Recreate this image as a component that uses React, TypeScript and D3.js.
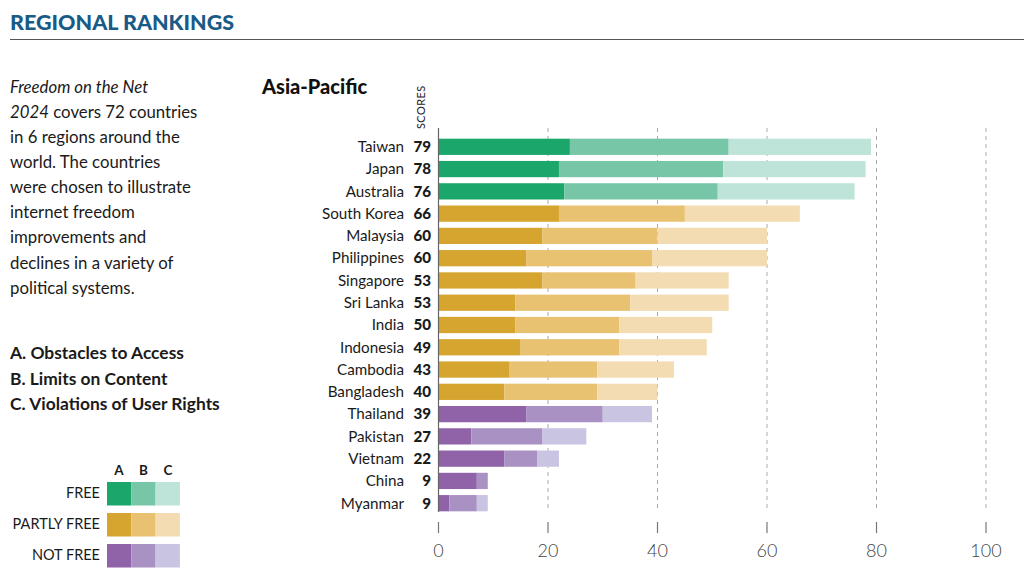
import { useEffect, useRef } from "react";
import * as d3 from "d3";

const countries = [
  "Taiwan", "Japan", "Australia", "South Korea", "Malaysia", "Philippines",
  "Singapore", "Sri Lanka", "India", "Indonesia", "Cambodia", "Bangladesh",
  "Thailand", "Pakistan", "Vietnam", "China", "Myanmar",
];
const obstacles = [24, 22, 23, 22, 19, 16, 19, 14, 14, 15, 13, 12, 16, 6, 12, 7, 2];
const limits = [29, 30, 28, 23, 21, 23, 17, 21, 19, 18, 16, 17, 14, 13, 6, 2, 5];
const violations = [26, 26, 25, 21, 20, 21, 17, 18, 17, 16, 14, 11, 9, 8, 4, 0, 2];
const status = [
  "free", "free", "free", "partly", "partly", "partly", "partly", "partly",
  "partly", "partly", "partly", "partly", "not", "not", "not", "not", "not",
];
const xTicks = [0, 20, 40, 60, 80, 100];
const statusNames = ["free", "partly", "not"];
const statusLabels = ["FREE", "PARTLY FREE", "NOT FREE"];
const colors: Record<string, string[]> = {
  free: ["#1ba66c", "#77c6a7", "#bee3d8"],
  partly: ["#d5a52f", "#e8c271", "#f3dcb2"],
  not: ["#9062a8", "#a991c4", "#cac4e3"],
};
const introLines = [
  "in 6 regions around the",
  "world. The countries",
  "were chosen to illustrate",
  "internet freedom",
  "improvements and",
  "declines in a variety of",
  "political systems.",
];
const keyLines = [
  "A. Obstacles to Access",
  "B. Limits on Content",
  "C. Violations of User Rights",
];

const FONT = "Lato, 'Open Sans', sans-serif";

const App = () => {
  const ref = useRef<SVGSVGElement>(null);

  useEffect(() => {
    const svg = d3.select(ref.current);
    svg.selectAll("*").remove();

    // header
    svg.append("text")
      .attr("x", 10).attr("y", 30)
      .attr("font-family", FONT).attr("font-weight", 900).attr("font-size", 21.5)
      .attr("fill", "#185b86")
      .text("REGIONAL RANKINGS");
    svg.append("line")
      .attr("x1", 10).attr("x2", 1024).attr("y1", 39.5).attr("y2", 39.5)
      .attr("stroke", "#555").attr("stroke-width", 1.2);

    // intro text
    const intro = svg.append("g").attr("font-family", FONT).attr("font-size", 16.8).attr("fill", "#1a1a1a");
    intro.append("text").attr("x", 10).attr("y", 93).attr("font-style", "italic").text("Freedom on the Net");
    const l2 = intro.append("text").attr("x", 10).attr("y", 118);
    l2.append("tspan").attr("font-style", "italic").text("2024");
    l2.append("tspan").text(" covers 72 countries");
    introLines.forEach((t, i) => {
      intro.append("text").attr("x", 10).attr("y", 143 + i * 25.1).text(t);
    });
    keyLines.forEach((t, i) => {
      intro.append("text").attr("x", 10).attr("y", 359 + i * 25.5)
        .attr("font-size", 17.4).attr("font-weight", 700).text(t);
    });

    // legend
    const lg = svg.append("g").attr("font-family", FONT).attr("fill", "#1a1a1a");
    ["A", "B", "C"].forEach((t, i) => {
      lg.append("text").attr("x", 119 + i * 24.5).attr("y", 475)
        .attr("text-anchor", "middle").attr("font-size", 13.5).attr("font-weight", 700).text(t);
    });
    statusNames.forEach((s, r) => {
      const y = 482 + r * 31;
      lg.append("text").attr("x", 100).attr("y", y + 11).attr("dy", "0.35em")
        .attr("text-anchor", "end").attr("font-size", 14.5).text(statusLabels[r]);
      colors[s].forEach((c, i) => {
        lg.append("rect").attr("x", 107 + i * 24.3).attr("y", y)
          .attr("width", 24.3).attr("height", 23.5).attr("fill", c);
      });
    });

    // chart
    const x = d3.scaleLinear().domain([0, 100]).range([438.5, 986]);
    const y = d3.scaleBand<string>().domain(countries).range([136, 514]).paddingInner(0.27).paddingOuter(0.12);
    const top = 128;
    const bottom = 512;

    svg.append("text")
      .attr("x", 262).attr("y", 94)
      .attr("font-family", FONT).attr("font-weight", 900).attr("font-size", 20)
      .attr("fill", "#111").text("Asia-Pacific");
    svg.append("text")
      .attr("transform", "translate(425,129) rotate(-90)")
      .attr("font-family", FONT).attr("font-size", 11).attr("fill", "#222")
      .attr("letter-spacing", 0.4)
      .text("SCORES");

    const grid = svg.append("g");
    xTicks.slice(1).forEach((t) => {
      grid.append("line").attr("x1", x(t)).attr("x2", x(t)).attr("y1", top).attr("y2", bottom)
        .attr("stroke", "#aaa").attr("stroke-width", 1).attr("stroke-dasharray", "4,4");
    });

    const stackData = countries.map((c, i) => ({
      country: c, status: status[i], vals: [obstacles[i], limits[i], violations[i]],
    }));
    const bars = svg.append("g");
    stackData.forEach((d) => {
      let acc = 0;
      d.vals.forEach((v, k) => {
        if (v > 0) {
          bars.append("rect")
            .attr("x", x(acc)).attr("y", y(d.country)!)
            .attr("width", x(acc + v) - x(acc)).attr("height", y.bandwidth())
            .attr("fill", colors[d.status][k]);
        }
        acc += v;
      });
    });

    svg.append("line").attr("x1", x(0)).attr("x2", x(0)).attr("y1", top).attr("y2", bottom)
      .attr("stroke", "#666").attr("stroke-width", 1.2);

    const labels = svg.append("g").attr("font-family", FONT).attr("font-size", 15.2).attr("fill", "#1a1a1a");
    stackData.forEach((d, i) => {
      const cy = y(d.country)! + y.bandwidth() / 2;
      labels.append("text").attr("x", 404).attr("y", cy).attr("dy", "0.35em")
        .attr("text-anchor", "end").text(d.country);
      labels.append("text").attr("x", 431).attr("y", cy).attr("dy", "0.35em")
        .attr("text-anchor", "end").attr("font-weight", 900)
        .text(obstacles[i] + limits[i] + violations[i]);
    });

    // bottom axis
    const axis = svg.append("g");
    xTicks.forEach((t) => {
      axis.append("line").attr("x1", x(t)).attr("x2", x(t)).attr("y1", 522).attr("y2", 533)
        .attr("stroke", "#777").attr("stroke-width", 1.2);
      axis.append("text").attr("x", x(t)).attr("y", 557)
        .attr("text-anchor", "middle").attr("font-family", FONT).attr("font-size", 18)
        .attr("font-weight", 300).attr("fill", "#444").text(t);
    });
  }, []);

  return (
    <svg ref={ref} width={1024} height={582} style={{ position: "absolute", left: 0, top: 0 }} />
  );
};

export default App;
